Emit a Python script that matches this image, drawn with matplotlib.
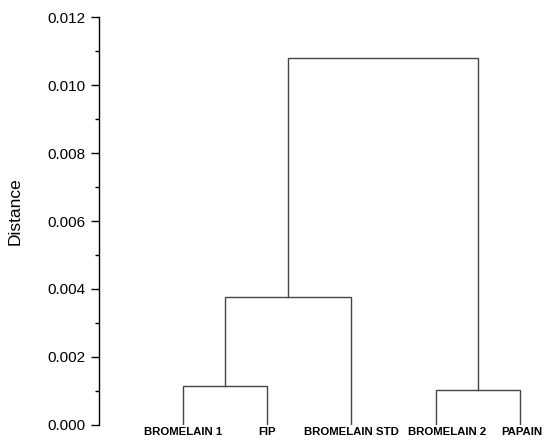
import matplotlib
matplotlib.use("Agg")
from matplotlib import pyplot as plt
from matplotlib.ticker import MultipleLocator, FormatStrFormatter

plt.rcParams['font.family'] = ['Liberation Sans', 'DejaVu Sans']

# leaves, left to right
leaf_labels = ['BROMELAIN 1', 'FIP', 'BROMELAIN STD', 'BROMELAIN 2', 'PAPAIN']
# each merge joins two nodes (leaves are 0..4, new clusters get 5, 6, ...)
merge_left = [0, 5, 3, 6]
merge_right = [1, 2, 4, 7]
merge_height = [0.00115, 0.00375, 0.00102, 0.0108]

# small sideways nudge of the labels (in leaf units), as in the original
label_shift = [0, 0, 0, 0.14, 0.02]

fig = plt.figure(figsize=(5.5, 4.47), dpi=100)
ax = fig.add_axes([0.18, 0.05, 0.82, 0.911])

node_x = list(range(1, len(leaf_labels) + 1))
node_y = [0.0] * len(leaf_labels)

for a, b, h in zip(merge_left, merge_right, merge_height):
    xa, ya = node_x[a], node_y[a]
    xb, yb = node_x[b], node_y[b]
    ax.plot([xa, xa, xb, xb], [ya, h, h, yb], color='#444444', lw=1.0,
            solid_joinstyle='miter')
    node_x.append((xa + xb) / 2)
    node_y.append(h)

for i, lab in enumerate(leaf_labels):
    ax.text(i + 1 + label_shift[i], -0.00022, lab, ha='center', va='center',
            fontsize=8.2, fontweight='bold', color='black')

ax.set_xlim(0, 5.36)
ax.set_ylim(0, 0.012)
ax.yaxis.set_major_locator(MultipleLocator(0.002))
ax.yaxis.set_minor_locator(MultipleLocator(0.001))
ax.yaxis.set_major_formatter(FormatStrFormatter('%.3f'))
ax.tick_params(axis='y', which='major', length=5.5, width=1.0, labelsize=11, pad=4)
ax.tick_params(axis='y', which='minor', length=2.8, width=1.0)
ax.set_xticks([])

for s in ['top', 'right', 'bottom']:
    ax.spines[s].set_visible(False)
ax.spines['left'].set_linewidth(1.0)

ax.set_ylabel('Distance', fontsize=12.5)
ax.yaxis.set_label_coords(-0.17, 0.525)
ax.patch.set_alpha(0)

fig.savefig('out.png', dpi=100)
